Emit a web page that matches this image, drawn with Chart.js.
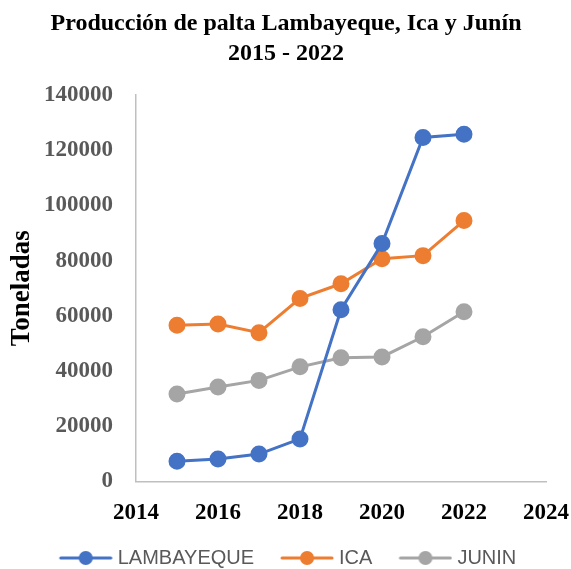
<!DOCTYPE html>
<html>
<head>
<meta charset="utf-8">
<script src="https://cdn.jsdelivr.net/npm/chart.js@4"></script>
<style>
  html, body { margin: 0; padding: 0; background: #fff; }
  #wrap { width: 571px; height: 569px; }
</style>
</head>
<body>
<div id="wrap"><canvas id="chart" width="571" height="569"></canvas></div>
<script>
const years = [2015, 2016, 2017, 2018, 2019, 2020, 2021, 2022];
const lambayeque = [7300, 8100, 9900, 15400, 62200, 86200, 124600, 125800];
const ica = [56600, 57000, 53900, 66300, 71600, 80700, 81800, 94500];
const junin = [31700, 34200, 36600, 41500, 44800, 45100, 52400, 61500];

const serif = "'Liberation Serif', 'Times New Roman', serif";
const sans = "'Liberation Sans', Arial, sans-serif";

// legend marker: line with a dot in the middle (blank on the left to space the items)
const BOX_W = 64;
function legendMark(color) {
  const c = document.createElement('canvas');
  c.width = BOX_W + 10; c.height = 16;
  const g = c.getContext('2d');
  const x0 = c.width - 54;
  g.strokeStyle = color;
  g.lineWidth = 3;
  g.lineCap = 'round';
  g.beginPath(); g.moveTo(x0 + 2, 8); g.lineTo(x0 + 52, 8); g.stroke();
  g.fillStyle = color;
  g.beginPath(); g.arc(x0 + 27, 8, 7, 0, Math.PI * 2); g.fill();
  return c;
}

function serie(label, values, color) {
  return {
    label: label,
    data: years.map((y, i) => ({ x: y, y: values[i] })),
    borderColor: color,
    backgroundColor: color,
    borderWidth: 3,
    pointRadius: 7,
    pointHoverRadius: 7,
    pointStyle: 'circle',
    tension: 0
  };
}

// nudge the legend down/left a bit, like the original
const legendNudge = {
  id: 'legendNudge',
  afterLayout(chart) {
    const l = chart.legend;
    l.left -= 6; l.right -= 6;
    l.top += 11; l.bottom += 11;
  }
};

const ctx = document.querySelector('#chart').getContext('2d');

new Chart(ctx, {
  type: 'line',
  data: {
    datasets: [
      serie('LAMBAYEQUE', lambayeque, '#4472C4'),
      serie('ICA', ica, '#ED7D31'),
      serie('JUNIN', junin, '#A5A5A5')
    ]
  },
  plugins: [legendNudge],
  options: {
    responsive: false,
    animation: false,
    layout: { padding: { left: 6, right: 5, top: 9, bottom: 2 } },
    plugins: {
      title: {
        display: true,
        text: ['Producción de palta Lambayeque, Ica y Junín', '2015 - 2022'],
        color: '#000',
        font: { family: serif, size: 24, weight: 'bold', lineHeight: 1.25 },
        padding: { top: 0, bottom: 26 }
      },
      legend: {
        position: 'bottom',
        labels: {
          usePointStyle: true,
          pointStyleWidth: BOX_W,
          color: '#595959',
          font: { family: sans, size: 20 },
          padding: 11,
          generateLabels: chart => {
            const items = Chart.defaults.plugins.legend.labels.generateLabels(chart);
            items.forEach(it => { it.pointStyle = legendMark(it.strokeStyle); });
            return items;
          }
        }
      },
      tooltip: { enabled: false }
    },
    scales: {
      x: {
        type: 'linear',
        min: 2014,
        max: 2024,
        grid: { display: false },
        border: { display: true, color: '#BFBFBF', width: 1.5 },
        afterFit: s => { s.height -= 11; s.paddingRight = 25; },
        ticks: {
          stepSize: 2,
          color: '#000',
          padding: 10,
          font: { family: serif, size: 23, weight: 'bold' },
          callback: v => String(v)
        }
      },
      y: {
        min: 0,
        max: 140000,
        grid: { display: false },
        border: { display: true, color: '#BFBFBF', width: 1.5 },
        afterFit: s => { s.width = 130; },
        title: {
          display: true,
          text: 'Toneladas',
          color: '#000',
          font: { family: serif, size: 27, weight: 'bold' },
          padding: 0
        },
        ticks: {
          stepSize: 20000,
          color: '#595959',
          padding: 15,
          font: { family: serif, size: 23, weight: 'bold' },
          callback: v => String(v)
        }
      }
    }
  }
});
</script>
</body>
</html>
